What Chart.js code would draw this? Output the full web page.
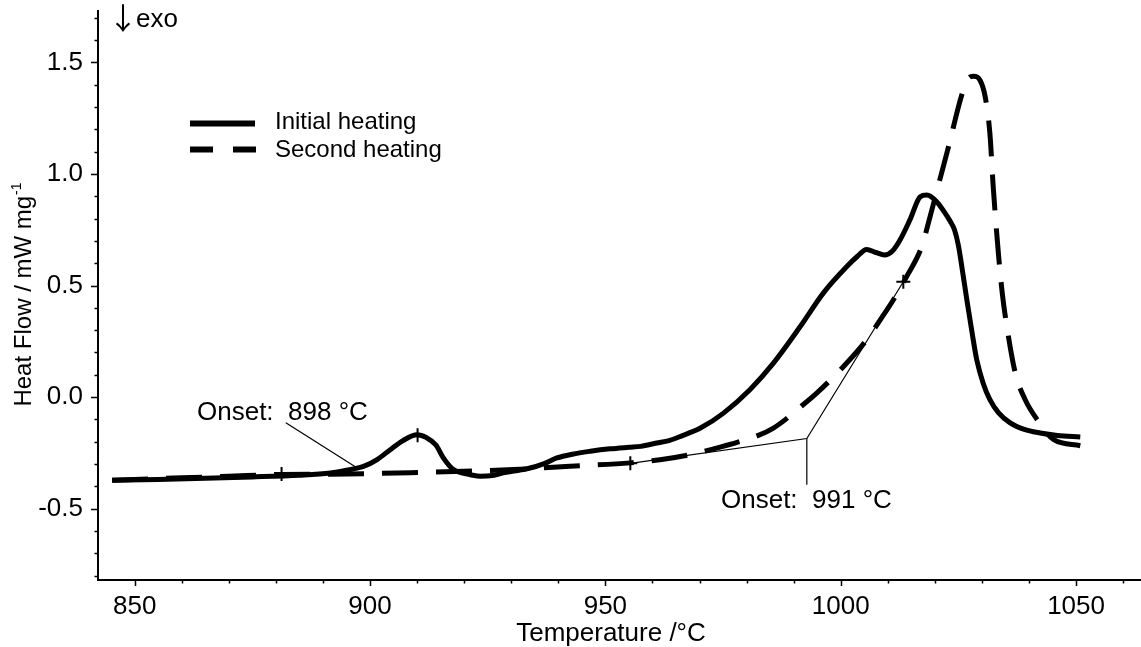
<!DOCTYPE html>
<html><head><meta charset="utf-8">
<script src="https://cdn.jsdelivr.net/npm/chart.js@4.4.1/dist/chart.umd.min.js"></script>
<style>html,body{margin:0;padding:0;background:#fff;}#wrap{width:1141px;height:647px;}</style>
</head><body><div id="wrap"><canvas id="c" width="1141" height="647"></canvas></div>
<script>
// ---- data ----
const seriesNames = ['Initial heating', 'Second heating'];
const tempInitial = [845.2,855,865,875,885,891.6,895,898.6,901.5,904.3,907,910,912,914,915.5,917.7,919.5,921.3,923.4,926,928.3,931,934,937,939.7,943,946.8,951,955,957.5,960.9,963.5,966,970.2,975.1,980.7,985.7,991.4,996.3,1001.3,1003.5,1005.5,1007.5,1009.3,1011,1012.6,1014.7,1016.9,1018.3,1020.4,1022,1023.2,1024.2,1025,1025.8,1026.8,1027.9,1028.9,1030.3,1031.7,1033.5,1036,1039,1042.4,1046,1050.9];
const hfInitial = [-0.373,-0.369,-0.364,-0.358,-0.350,-0.340,-0.328,-0.311,-0.28,-0.236,-0.195,-0.169,-0.182,-0.215,-0.27,-0.325,-0.340,-0.348,-0.355,-0.352,-0.340,-0.330,-0.318,-0.298,-0.273,-0.256,-0.243,-0.232,-0.225,-0.221,-0.206,-0.195,-0.176,-0.139,-0.072,0.033,0.152,0.316,0.466,0.585,0.63,0.662,0.648,0.637,0.655,0.704,0.794,0.898,0.906,0.876,0.83,0.79,0.748,0.68,0.575,0.436,0.29,0.167,0.06,-0.012,-0.07,-0.116,-0.145,-0.161,-0.172,-0.179];
const tempSecond = [845.2,860,870,881,891.5,905.7,919.8,930.5,942.5,955.3,961.6,968,973,978.6,982.5,985.7,988.3,990.7,994.9,1000.6,1005.5,1008.4,1011.2,1014,1017.2,1019,1021,1023,1025.7,1027.1,1028.2,1029.6,1030.7,1031.7,1032.4,1033.5,1034.3,1035.3,1037.1,1039.2,1041.7,1045.2,1050.9];
const hfSecond = [-0.373,-0.362,-0.355,-0.347,-0.346,-0.340,-0.333,-0.325,-0.310,-0.295,-0.281,-0.258,-0.232,-0.199,-0.172,-0.139,-0.10,-0.057,0.018,0.137,0.256,0.346,0.436,0.54,0.674,0.81,0.97,1.13,1.353,1.428,1.438,1.42,1.346,1.18,0.943,0.645,0.47,0.316,0.107,-0.012,-0.10,-0.19,-0.218];
const markerTemp = [881.2, 910.1, 955.3, 1013.3];
const markerHF = [-0.345, -0.171, -0.297, 0.517];
const onset1LeaderTemp = [882.1, 897.2];
const onset1LeaderHF = [-0.115, -0.317];
const onset2TangentTemp = [955.3, 992.8, 1013.3];
const onset2TangentHF = [-0.297, -0.186, 0.517];
const onset2LeaderTemp = [992.8, 992.8];
const onset2LeaderHF = [-0.186, -0.393];
const onsetLabels = ['Onset:  898 °C', 'Onset:  991 °C'];
const xTickValues = [850, 900, 950, 1000, 1050];
const xTickLabels = ['850', '900', '950', '1000', '1050'];
const xMinorTicks = [850,860,870,880,890,900,910,920,930,940,950,960,970,980,990,1000,1010,1020,1030,1040,1050,1060];
const yTickValues = [-0.5, 0, 0.5, 1.0, 1.5];
const yTickLabels = ['-0.5', '0.0', '0.5', '1.0', '1.5'];
const yMinorTicks = [-0.8,-0.7,-0.6,-0.5,-0.4,-0.3,-0.2,-0.1,0,0.1,0.2,0.3,0.4,0.5,0.6,0.7,0.8,0.9,1.0,1.1,1.2,1.3,1.4,1.5,1.6,1.7];
const xTitle = 'Temperature /°C';
const yTitle = 'Heat Flow / mW mg';
const yTitleSup = '-1';

const pts = (xs, ys) => xs.map((v, i) => ({x: v, y: ys[i]}));
const FF = '"Liberation Sans", Arial, Helvetica, sans-serif';

const overlay = {
  id: 'overlay',
  afterDraw(chart) {
    const {ctx, chartArea: a, scales: {x, y}} = chart;
    ctx.save();
    ctx.strokeStyle = '#000'; ctx.fillStyle = '#000';
    // axes
    ctx.lineWidth = 2;
    ctx.beginPath();
    ctx.moveTo(a.left, a.top); ctx.lineTo(a.left, a.bottom); ctx.lineTo(a.right, a.bottom);
    ctx.stroke();
    // ticks
    ctx.lineWidth = 1.5;
    ctx.beginPath();
    yMinorTicks.forEach(v => {
      const p = Math.round(y.getPixelForValue(v)) + 0.5;
      const major = yTickValues.some(m => Math.abs(m - v) < 1e-6);
      ctx.moveTo(a.left, p); ctx.lineTo(a.left - (major ? 7 : 3.5), p);
    });
    xMinorTicks.forEach(v => {
      const p = Math.round(x.getPixelForValue(v)) + 0.5;
      const major = xTickValues.some(m => Math.abs(m - v) < 1e-6);
      ctx.moveTo(p, a.bottom); ctx.lineTo(p, a.bottom + (major ? 6 : 3.5));
    });
    ctx.stroke();
    // x title
    ctx.font = '26px ' + FF;
    ctx.textAlign = 'center'; ctx.textBaseline = 'alphabetic';
    ctx.fillText(xTitle, 611, 641);
    // y title with superscript
    ctx.save();
    ctx.translate(31, 295);
    ctx.rotate(-Math.PI / 2);
    ctx.font = '24px ' + FF;
    const w1 = ctx.measureText(yTitle).width;
    ctx.font = '14px ' + FF;
    const w2 = ctx.measureText(yTitleSup).width;
    const start = -(w1 + w2) / 2;
    ctx.textAlign = 'left';
    ctx.font = '24px ' + FF;
    ctx.fillText(yTitle, start, 0);
    ctx.font = '14px ' + FF;
    ctx.fillText(yTitleSup, start + w1 + 1, -10);
    ctx.restore();
    // exo marker
    ctx.textAlign = 'center';
    ctx.font = '30px "Noto Sans CJK SC", ' + FF;
    ctx.fillText('\u2193', 123, 29);
    ctx.textAlign = 'left';
    ctx.font = '26px ' + FF;
    ctx.fillText('exo', 136, 27);
    // legend
    ctx.lineWidth = 6;
    ctx.lineCap = 'butt';
    ctx.beginPath(); ctx.moveTo(190, 123.5); ctx.lineTo(255, 123.5); ctx.stroke();
    ctx.beginPath(); ctx.moveTo(190, 149.5); ctx.lineTo(213, 149.5);
    ctx.moveTo(233, 149.5); ctx.lineTo(256, 149.5); ctx.stroke();
    ctx.font = '24px ' + FF;
    ctx.fillText(seriesNames[0], 275, 129);
    ctx.fillText(seriesNames[1], 275, 157);
    // onset labels
    ctx.font = '26px ' + FF;
    ctx.fillText(onsetLabels[0], 197, 420);
    ctx.fillText(onsetLabels[1], 721, 508);
    ctx.restore();
  }
};

const chart = new Chart(document.getElementById('c'), {
  type: 'line',
  data: {
    datasets: [
      { label: seriesNames[0], data: pts(tempInitial, hfInitial), borderColor: '#000', borderWidth: 5,
        pointRadius: 0, cubicInterpolationMode: 'monotone', borderJoinStyle: 'round', fill: false },
      { label: seriesNames[1], data: pts(tempSecond, hfSecond), borderColor: '#000', borderWidth: 5,
        borderDash: [36, 18], pointRadius: 0, cubicInterpolationMode: 'monotone', fill: false },
      { label: 'markers', data: pts(markerTemp, markerHF), showLine: false, pointStyle: 'cross',
        pointRadius: 7, pointBorderWidth: 2, pointBorderColor: '#000', borderColor: '#000' },
      { label: 'lead1', data: pts(onset1LeaderTemp, onset1LeaderHF), borderColor: '#000', borderWidth: 1.2, pointRadius: 0, tension: 0 },
      { label: 'tangent2', data: pts(onset2TangentTemp, onset2TangentHF), borderColor: '#000', borderWidth: 1.2, pointRadius: 0, tension: 0 },
      { label: 'lead2', data: pts(onset2LeaderTemp, onset2LeaderHF), borderColor: '#000', borderWidth: 1.2, pointRadius: 0, tension: 0 }
    ]
  },
  options: {
    responsive: false, animation: false, devicePixelRatio: 1,
    layout: { autoPadding: false, padding: { top: 10, left: 0, right: 0, bottom: 0 } },
    plugins: { legend: { display: false }, tooltip: { enabled: false } },
    scales: {
      x: {
        type: 'linear', min: 842.2, max: 1063.8,
        afterBuildTicks: s => { s.ticks = xTickValues.map(v => ({ value: v })); },
        ticks: { font: { family: FF, size: 26 }, color: '#000', padding: 11, maxRotation: 0, autoSkip: false,
                 callback: (v, i) => xTickLabels[i] },
        grid: { display: false, drawTicks: false }, border: { display: false },
        afterFit: s => { s.height = 67; s.paddingLeft = 0; s.paddingRight = 0; }
      },
      y: {
        type: 'linear', min: -0.82, max: 1.735,
        afterBuildTicks: s => { s.ticks = yTickValues.map(v => ({ value: v })); },
        ticks: { font: { family: FF, size: 26 }, color: '#000', padding: 15, autoSkip: false,
                 callback: (v, i) => yTickLabels[i] },
        grid: { display: false, drawTicks: false }, border: { display: false },
        afterFit: s => { s.width = 98; s.paddingTop = 0; s.paddingBottom = 0; }
      }
    }
  },
  plugins: [overlay]
});
</script></body></html>
